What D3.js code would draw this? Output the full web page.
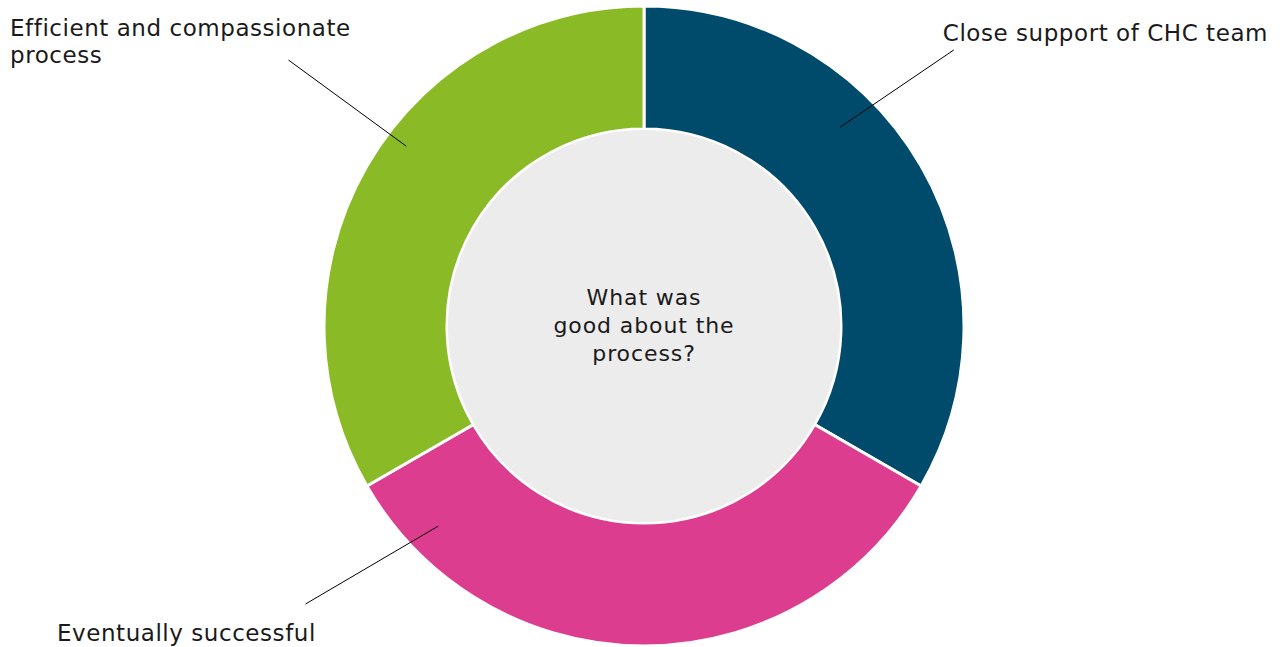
<!DOCTYPE html>
<html>
<head>
<meta charset="utf-8">
<script src="https://cdn.jsdelivr.net/npm/d3@7"></script>
<style>
  html, body { margin: 0; padding: 0; background: #ffffff; }
  svg { display: block; }
  text { font-family: "DejaVu Sans", "Noto Sans", sans-serif; fill: #1a1a1a; }
</style>
</head>
<body>
<svg id="chart" width="1282" height="647"></svg>
<script>
// Answers to "What was good about the process?" (equal shares)
const categories = ["Close support of CHC team", "Eventually successful", "Efficient and compassionate process"];
const values = [1, 1, 1];
const colors = ["#004b6b", "#dc3d8e", "#8abb27"];
const centerLines = ["What was", "good about the", "process?"];

// label layout: wrapped lines, anchor, text origin, leader line (polar: angle in degrees, radius)
const labelLines = [["Close support of CHC team"], ["Eventually successful"], ["Efficient and compassionate", "process"]];
const labelAnchors = ["end", "start", "start"];
const labelPos = [[1268, 41], [57, 641], [10, 36]];
const leaderFrom = [[44.6, 279], [225.8, 287], [307.1, 298]];
const leaderTo = [[48.3, 415], [230.6, 438], [306.8, 444]];

const W = 1282, H = 647;
const cx = 644, cy = 326;
const outerR = 320, innerR = 197, holeR = 196;

const svg = d3.select("#chart");
const g = svg.append("g").attr("transform", `translate(${cx},${cy})`);

const pie = d3.pie().value(d => d).sort(null);
const arc = d3.arc().innerRadius(innerR).outerRadius(outerR);
const arcs = pie(values);

g.selectAll("path.slice")
  .data(arcs)
  .join("path")
  .attr("class", "slice")
  .attr("d", arc)
  .attr("fill", (d, i) => colors[i])
  .attr("stroke", "#ffffff")
  .attr("stroke-width", 3);

g.append("circle")
  .attr("r", holeR)
  .attr("fill", "#ececec");

const ct = g.append("text")
  .attr("text-anchor", "middle")
  .style("font-size", "22px")
  .style("letter-spacing", "0.9px");
centerLines.forEach((line, i) => {
  ct.append("tspan").attr("x", 0).attr("y", -21 + i * 28).text(line);
});

const rad = a => a * Math.PI / 180;
categories.forEach((c, i) => {
  const p0 = d3.pointRadial(rad(leaderFrom[i][0]), leaderFrom[i][1]);
  const p1 = d3.pointRadial(rad(leaderTo[i][0]), leaderTo[i][1]);
  g.append("line")
    .attr("x1", p0[0]).attr("y1", p0[1])
    .attr("x2", p1[0]).attr("y2", p1[1])
    .attr("stroke", "#000000")
    .attr("stroke-width", 1);

  const t = svg.append("text")
    .attr("text-anchor", labelAnchors[i])
    .style("font-size", "23px")
    .style("letter-spacing", "0.55px");
  labelLines[i].forEach((line, j) => {
    t.append("tspan")
      .attr("x", labelPos[i][0])
      .attr("y", labelPos[i][1] + j * 27)
      .text(line);
  });
});
</script>
</body>
</html>
